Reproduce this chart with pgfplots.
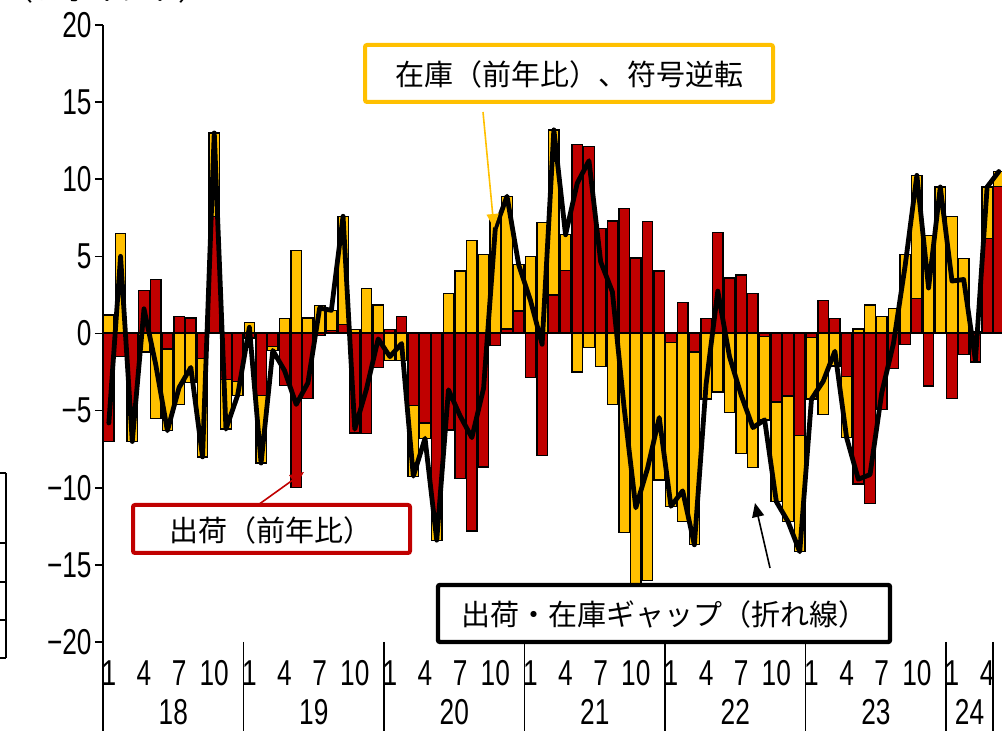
\documentclass[border=0pt]{standalone}
\usepackage{fontspec}
\usepackage{pgfplots}
\pgfplotsset{compat=1.18}
\usepackage{pgfplotstable}
\usetikzlibrary{arrows.meta}
\setmainfont{Liberation Sans}
\newfontfamily\numfont{Liberation Sans}[FakeStretch=0.73]
\newfontfamily\jpfont{Noto Sans CJK JP}
\definecolor{myred}{HTML}{C00000}
\definecolor{myyel}{HTML}{FFC000}

\pgfplotstableread{
m r y
1 -7.0 1.2
2 -1.5 6.5
3 -5.0 -2.0
4 2.8 -1.2
5 3.5 -5.5
6 -1.0 -5.3
7 1.1 -4.6
8 1.0 -3.2
9 -1.6 -6.4
10 7.6 5.4
11 -3.0 -3.2
12 -3.1 -0.9
13 -0.3 0.7
14 -4.0 -4.4
15 -0.85 -0.25
16 -3.35 0.95
17 -10.0 5.4
18 -4.2 1.0
19 -0.15 1.8
20 0.2 1.3
21 0.6 7.0
22 -6.45 0.25
23 -6.5 2.9
24 -2.2 1.85
25 0.25 -1.75
26 1.1 -1.75
27 -4.65 -4.6
28 -5.8 -1.0
29 -12.0 -1.4
30 -6.25 2.6
31 -9.4 4.05
32 -12.8 6.05
33 -8.65 5.1
34 -0.8 7.6
35 0.3 8.6
36 1.45 3.0
37 -2.85 5.0
38 -7.9 7.2
39 2.5 10.7
40 4.1 2.3
41 12.25 -2.5
42 12.1 -0.9
43 6.8 -2.15
44 7.3 -4.6
45 8.1 -12.9
46 4.9 -16.2
47 7.25 -16.0
48 4.05 -9.5
49 -0.6 -10.6
50 2.0 -12.2
51 -1.2 -12.5
52 0.95 -4.25
53 6.55 -3.8
54 3.6 -5.1
55 3.8 -7.8
56 2.6 -8.7
57 -0.2 -5.4
58 -4.45 -6.45
59 -4.05 -8.15
60 -6.6 -7.55
61 -0.25 -4.0
62 2.15 -5.25
63 0.95 -2.1
64 -2.8 -3.95
65 -9.75 0.3
66 -11.0 1.85
67 -4.95 1.1
68 -2.25 1.6
69 -0.7 5.1
70 2.25 8.0
71 -3.4 6.35
72 0.0 9.5
73 -4.2 7.6
74 -1.35 4.85
75 -1.85 0.1
76 6.15 3.35
77 9.55 0.95
}\datatable

\begin{document}
\begin{tikzpicture}
\useasboundingbox (0,0) rectangle (501pt,365.5pt);
\clip (0,0) rectangle (501pt,365.5pt);
\begin{axis}[
  at={(51.5pt,44.5pt)}, anchor=south west,
  scale only axis, width=449.5pt, height=308.5pt,
  xmin=0.5, xmax=77.27, ymin=-20, ymax=20,
  axis y line*=left, axis x line*=bottom,
  x axis line style={draw=none},
  y axis line style={line width=0.85pt},
  ytick={-20,-15,-10,-5,0,5,10,15,20},
  yticklabels={−20,−15,−10,−5,0,5,10,15,20},
  ytick style={line width=0.85pt, black},
  tick align=outside,
  major tick length=4pt,
  yticklabel style={font=\numfont\fontsize{18}{18}\selectfont, inner sep=0pt, anchor=east, xshift=-1.5pt},
  xtick={1,4,7,10,13,16,19,22,25,28,31,34,37,40,43,46,49,52,55,58,61,64,67,70,73,76},
  xticklabels={1,4,7,10,1,4,7,10,1,4,7,10,1,4,7,10,1,4,7,10,1,4,7,10,1,4},
  xtick style={draw=none},
  xticklabel style={font=\numfont\fontsize{18}{18}\selectfont, inner sep=0pt, anchor=base, yshift=-18pt},
  extra x ticks={6.5,18.5,30.5,42.5,54.5,66.5,74.5},
  extra x tick labels={18,19,20,21,22,23,24},
  extra x tick style={xtick style={draw=none}, xticklabel style={yshift=-19.5pt}},
]
\addplot[ybar, bar width=0.89, bar shift=0pt, fill=myyel, draw=black, line width=0.65pt]
  table[x=m, y expr={max(\thisrow{r},0)+max(\thisrow{y},0)}] {\datatable};
\addplot[ybar, bar width=0.89, bar shift=0pt, fill=myyel, draw=black, line width=0.65pt]
  table[x=m, y expr={min(\thisrow{r},0)+min(\thisrow{y},0)}] {\datatable};
\addplot[ybar, bar width=0.89, bar shift=0pt, fill=myred, draw=black, line width=0.65pt]
  table[x=m, y=r] {\datatable};
\addplot[black, line width=1pt, forget plot] coordinates {(0.5,0) (77.3,0)};
\addplot[black, line width=2.4pt, line join=round, line cap=round, mark=none]
  table[x=m, y expr={\thisrow{r}+\thisrow{y}}] {\datatable};
\end{axis}
\begin{scope}[shift={(0pt,365.5pt)}, x=0.5pt, y=-0.5pt]
  % year separators
  \foreach \xx in {103,243.5,384.0,524.6,665.1,805.6,946.1,993.0}
    \draw[black, line width=0.75pt] (\xx,642) -- (\xx,745);
  % annotation boxes
  \draw[myyel, line width=2pt, rounded corners=1pt, fill=white] (365,45) rectangle (773,102);
  \node[font=\jpfont\fontsize{14.5}{14.5}\selectfont, inner sep=0pt] at (569,74) {在庫（前年比）、符号逆転};
  \draw[myyel, line width=0.8pt, -{Triangle[length=7pt,width=6pt]}] (483,112) -- (494,228);
  \draw[myred, line width=2pt, rounded corners=1pt, fill=white] (133,505) rectangle (410,553);
  \node[font=\jpfont\fontsize{14.5}{14.5}\selectfont, inner sep=0pt] at (271,530) {出荷（前年比）};
  \draw[myred, line width=0.8pt, -{Triangle[length=7pt,width=6pt]}] (258,505) -- (304,472);
  \draw[black, line width=2.2pt, rounded corners=1pt, fill=white] (438,585) rectangle (890,642);
  \node[font=\jpfont\fontsize{14.5}{14.5}\selectfont, inner sep=0pt] at (664,614) {出荷・在庫ギャップ（折れ線）};
  \draw[black, line width=0.8pt, -{Triangle[length=7pt,width=6pt]}] (770,568) -- (755,503);
  % cropped top-left unit label
  \node[font=\jpfont\fontsize{14.5}{14.5}\selectfont, inner sep=0pt, anchor=base west] at (4,1) {（％ポイント）};
  % cropped fragments at left edge
  \draw[black, line width=0.75pt] (6,473) -- (6,658);
  \foreach \yy in {473,543,582,620,658}
    \draw[black, line width=0.75pt] (-2,\yy) -- (6,\yy);
\end{scope}
\end{tikzpicture}
\end{document}
